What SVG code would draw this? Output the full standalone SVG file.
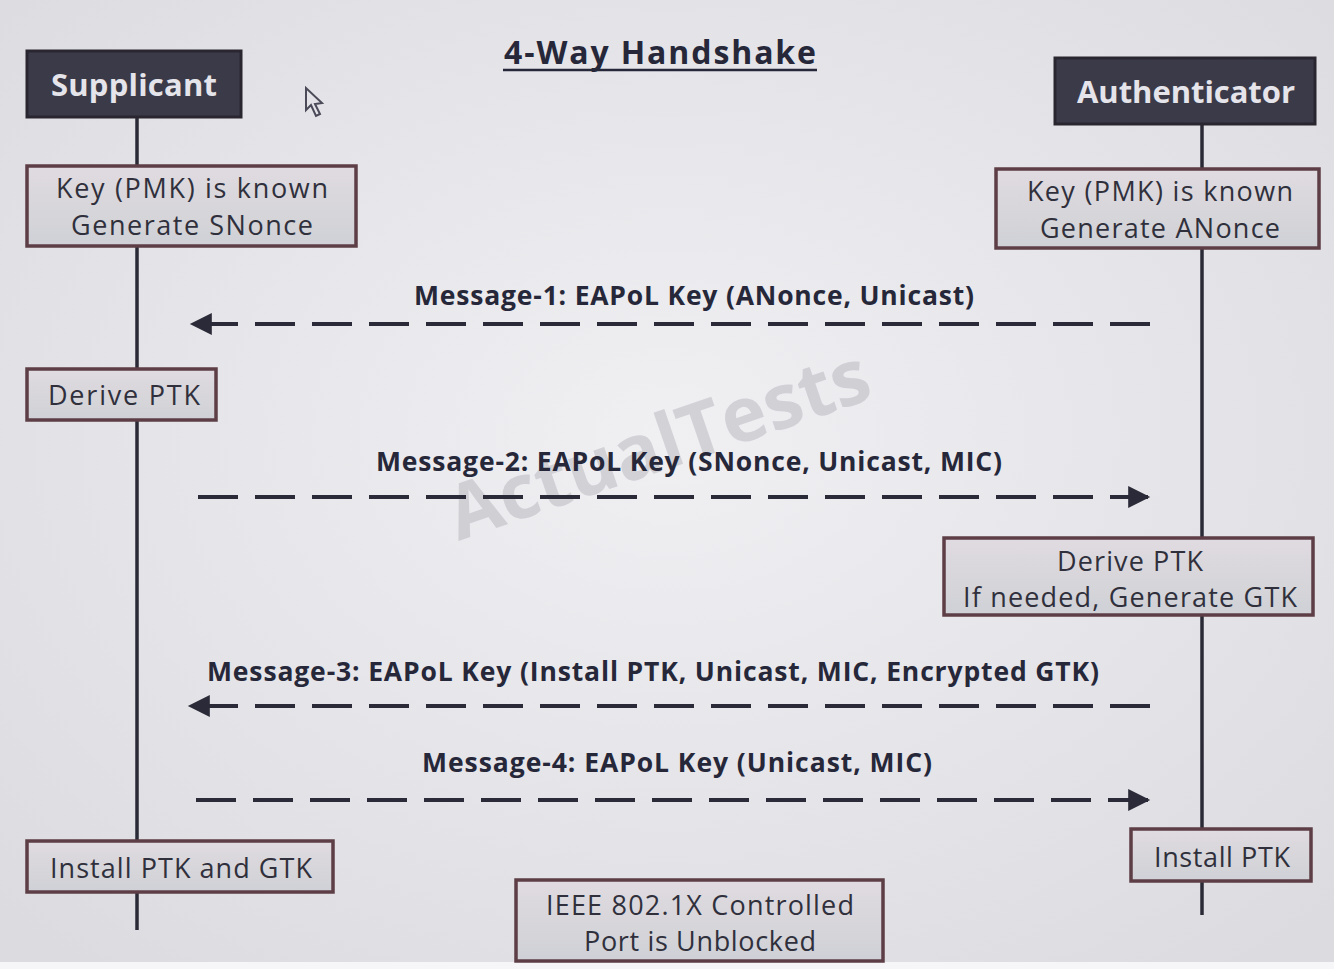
<svg xmlns="http://www.w3.org/2000/svg" width="1334" height="969" viewBox="0 0 1334 969">
<defs>
<radialGradient id="bg" cx="50%" cy="45%" r="70%">
<stop offset="0" stop-color="#f0eff2"/>
<stop offset="1" stop-color="#dcdbe0"/>
</radialGradient>
<linearGradient id="boxfill" x1="0" y1="0" x2="0" y2="1">
<stop offset="0" stop-color="#e0dbe0"/>
<stop offset="1" stop-color="#cfd1d6"/>
</linearGradient>
<marker id="ah" viewBox="0 0 10 10" refX="9" refY="5" markerWidth="6.5" markerHeight="5.5" markerUnits="strokeWidth" orient="auto">
<path d="M0,0 L10,5 L0,10 Z" fill="#2a2a38"/>
</marker>
<style>
.head{fill:#3b3a48;stroke:#2a2630;stroke-width:3}
.headtxt{font-family:"Open Sans","Liberation Sans",sans-serif;font-weight:bold;font-size:31px;fill:#e4e4ea;text-anchor:middle}
.box{fill:url(#boxfill);stroke:#5e3e46;stroke-width:3.5}
.boxtxt{font-family:"Open Sans","Liberation Sans",sans-serif;font-size:27px;fill:#30303c;text-anchor:middle}
.msg{font-family:"Open Sans","Liberation Sans",sans-serif;font-weight:bold;font-size:26.5px;fill:#26283a;text-anchor:middle}
.life{stroke:#2a2a36;stroke-width:3.5;fill:none}
.arr{stroke:#2a2a38;stroke-width:4;fill:none;stroke-dasharray:40 17;marker-end:url(#ah)}
</style>
</defs>
<rect x="0" y="0" width="1334" height="969" fill="url(#bg)"/>
<rect x="0" y="962" width="1334" height="7" fill="#f6f6f8"/>
<text x="660" y="64" font-family="'Open Sans','Liberation Sans',sans-serif" font-weight="bold" font-size="32" fill="#26283a" text-anchor="middle" textLength="312">4-Way Handshake</text>
<line x1="503" y1="70" x2="817" y2="70" stroke="#26283a" stroke-width="2.5"/>
<text x="662" y="470" transform="rotate(-19 662 455)" font-family="'Open Sans','Liberation Sans',sans-serif" font-weight="bold" font-size="76" fill="#a4a4ac" fill-opacity="0.38" text-anchor="middle">ActualTests</text>
<path d="M306,88 L306,110 L311,105 L316,116 L320,114 L315,104 L322,103 Z" fill="none" stroke="#4a4a58" stroke-width="2"/>
<g id="connectors">
<line class="life" x1="137" y1="118" x2="137" y2="930"/>
<line class="life" x1="1202" y1="125" x2="1202" y2="915"/>
<line class="arr" x1="1150" y1="324" x2="192" y2="324"/>
<line class="arr" x1="198" y1="497" x2="1148" y2="497"/>
<line class="arr" x1="1150" y1="706" x2="190" y2="706"/>
<line class="arr" x1="196" y1="800" x2="1148" y2="800"/>
<text class="msg" x="694" y="305" textLength="560">Message-1: EAPoL Key (ANonce, Unicast)</text>
<text class="msg" x="689" y="471" textLength="626">Message-2: EAPoL Key (SNonce, Unicast, MIC)</text>
<text class="msg" x="653" y="681" textLength="892">Message-3: EAPoL Key (Install PTK, Unicast, MIC, Encrypted GTK)</text>
<text class="msg" x="677" y="772" textLength="510">Message-4: EAPoL Key (Unicast, MIC)</text>
</g>
<g id="supplicant">
<rect class="head" x="27" y="51" width="214" height="66"/>
<text class="headtxt" x="134" y="96" textLength="166">Supplicant</text>
</g>
<g id="authenticator">
<rect class="head" x="1055" y="58" width="260" height="66"/>
<text class="headtxt" x="1186" y="103" textLength="218">Authenticator</text>
</g>
<g id="sup-pmk">
<rect class="box" x="27" y="166" width="329" height="80"/>
<text class="boxtxt" x="192" y="198" textLength="272">Key (PMK) is known</text>
<text class="boxtxt" x="192" y="235" textLength="242">Generate SNonce</text>
</g>
<g id="auth-pmk">
<rect class="box" x="996" y="169" width="323" height="79"/>
<text class="boxtxt" x="1160" y="201" textLength="266">Key (PMK) is known</text>
<text class="boxtxt" x="1160" y="238" textLength="240">Generate ANonce</text>
</g>
<g id="sup-derive">
<rect class="box" x="27" y="369" width="189" height="51"/>
<text class="boxtxt" x="124" y="405" textLength="152">Derive PTK</text>
</g>
<g id="auth-derive">
<rect class="box" x="944" y="538" width="369" height="77"/>
<text class="boxtxt" x="1130" y="571" textLength="146">Derive PTK</text>
<text class="boxtxt" x="1130" y="607" textLength="334">If needed, Generate GTK</text>
</g>
<g id="sup-install">
<rect class="box" x="27" y="841" width="306" height="51"/>
<text class="boxtxt" x="181" y="878" textLength="262">Install PTK and GTK</text>
</g>
<g id="auth-install">
<rect class="box" x="1131" y="829" width="180" height="52"/>
<text class="boxtxt" x="1222" y="867" textLength="136">Install PTK</text>
</g>
<g id="port-unblocked">
<rect class="box" x="516" y="880" width="367" height="81"/>
<text class="boxtxt" x="700" y="915" textLength="308">IEEE 802.1X Controlled</text>
<text class="boxtxt" x="700" y="951" textLength="232">Port is Unblocked</text>
</g>
</svg>
